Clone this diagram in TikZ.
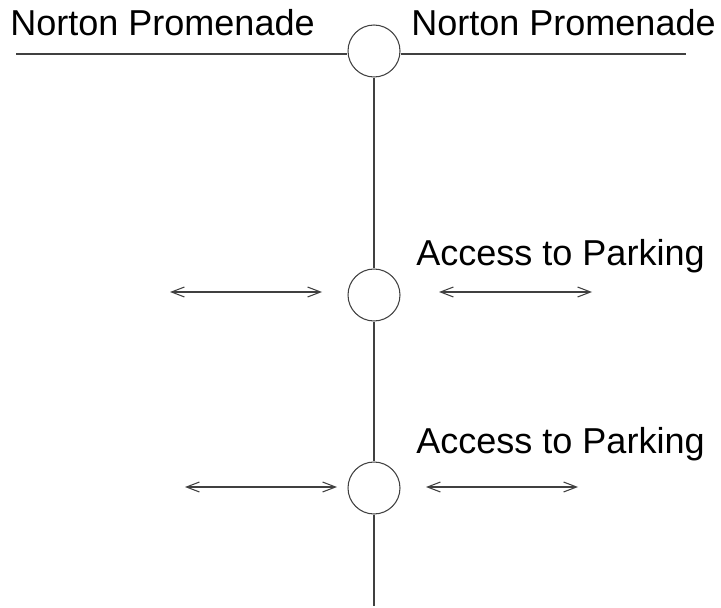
\documentclass[tikz,border=0pt]{standalone}
\usepackage{fontspec}
\setmainfont{Liberation Sans}
\usetikzlibrary{positioning,arrows.meta}

\begin{document}
\begin{tikzpicture}[
        x=0.02cm,
        y=-0.02cm,
        junction/.style={
          draw=black!75,
          circle,
          minimum size=1.04cm,
          inner sep=0pt,
          line width=0.6pt
          },
        street/.style={
          font=\fontsize{20.5}{24}\selectfont,
          anchor=base west,
          inner sep=0pt
          },
        road/.style={
          draw=black!75,
          line width=0.6pt
          },
        access/.style={
          <->,
          draw=black!75,
          line width=0.6pt
          },
        >={Straight Barb[length=0.26cm,width=0.2cm]}
        ]
        \useasboundingbox (0,0) rectangle (721,608);
        % junctions along the access road
        \node[junction] (top) at (374,51) {};
        \node[junction] (mid) at (374,295) {};
        \node[junction] (low) at (374,488) {};
        % promenade
        \coordinate (promW) at (16,54);
        \coordinate (promE) at (686,54);
        \draw[road] (promW) -- (promW -| top.west);
        \draw[road] (promE -| top.east) -- (promE);
        \node[street] (promL) at (10,36) {Norton Promenade};
        \node[street] (promR) at (411,36) {Norton Promenade};
        % access road
        \coordinate (roadS) at (374,606);
        \draw[road] (top.south) -- (mid.north);
        \draw[road] (mid.south) -- (low.north);
        \draw[road] (low.south) -- (roadS);
        % parking accesses
        \node[street] (parkA) at (416,266) {Access to Parking};
        \node[street] (parkB) at (416,453) {Access to Parking};
        \coordinate (aW1) at (170,292);
        \coordinate (aW2) at (322,292);
        \coordinate (aE1) at (439,292);
        \coordinate (aE2) at (592,292);
        \coordinate (bW1) at (185,487);
        \coordinate (bW2) at (337,487);
        \coordinate (bE1) at (426,487);
        \coordinate (bE2) at (578,487);
        \draw[access] (aW1) -- (aW2);
        \draw[access] (aE1) -- (aE2);
        \draw[access] (bW1) -- (bW2);
        \draw[access] (bE1) -- (bE2);
\end{tikzpicture}
\end{document}
